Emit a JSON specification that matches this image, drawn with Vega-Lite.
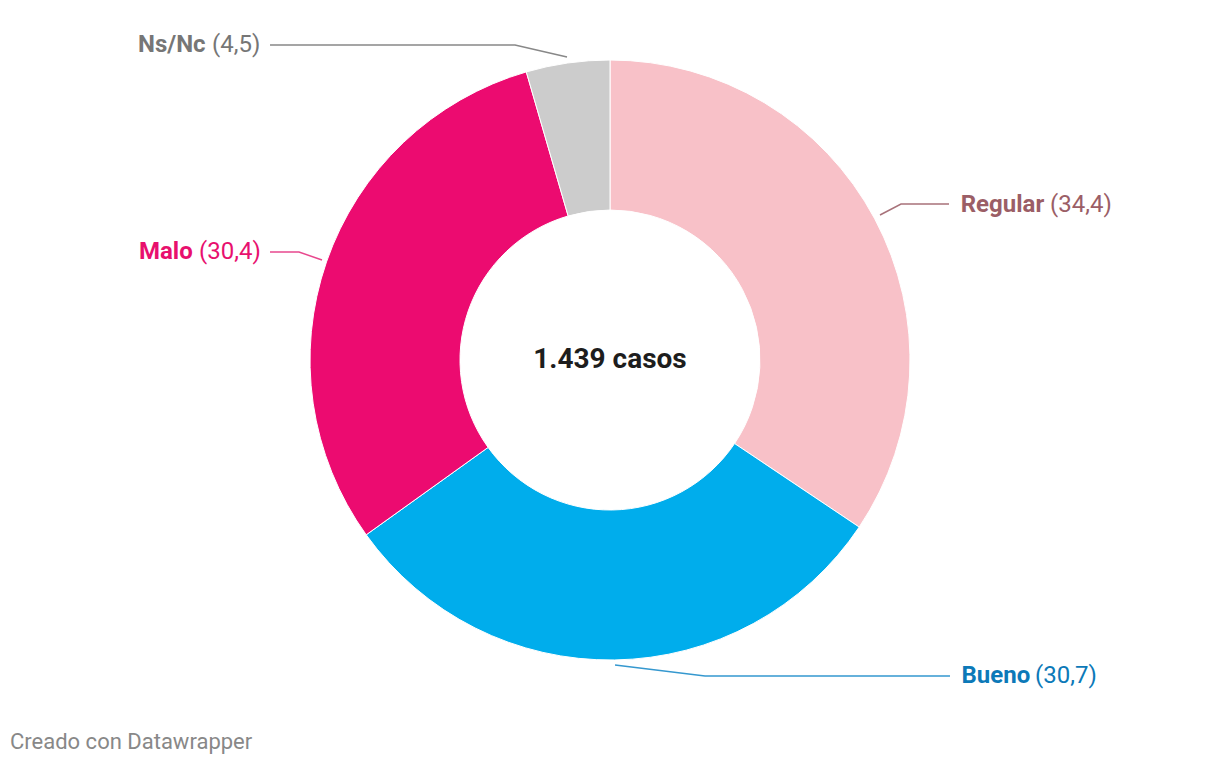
{
  "$schema": "https://vega.github.io/schema/vega-lite/v6.json",
  "width": 1220,
  "height": 766,
  "autosize": {"type": "none"},
  "padding": 0,
  "background": "white",
  "config": {"view": {"stroke": null}, "font": "Roboto"},
  "datasets": {
    "segmentos": [
      {"categoria": "Regular", "porcentaje": 34.4, "orden": 1},
      {"categoria": "Bueno", "porcentaje": 30.7, "orden": 2},
      {"categoria": "Malo", "porcentaje": 30.4, "orden": 3},
      {"categoria": "Ns/Nc", "porcentaje": 4.5, "orden": 4}
    ],
    "guias": [
      {"categoria": "Regular", "punto": 1, "x": 0.9, "y": 0.4833},
      {"categoria": "Regular", "punto": 2, "x": 0.97, "y": 0.52},
      {"categoria": "Regular", "punto": 3, "x": 1.13, "y": 0.52},
      {"categoria": "Bueno", "punto": 1, "x": 0.0167, "y": -1.0167},
      {"categoria": "Bueno", "punto": 2, "x": 0.3167, "y": -1.0533},
      {"categoria": "Bueno", "punto": 3, "x": 1.1333, "y": -1.0533},
      {"categoria": "Malo", "punto": 1, "x": -0.96, "y": 0.3333},
      {"categoria": "Malo", "punto": 2, "x": -1.0367, "y": 0.36},
      {"categoria": "Malo", "punto": 3, "x": -1.1333, "y": 0.36},
      {"categoria": "Ns/Nc", "punto": 1, "x": -0.1433, "y": 1.01},
      {"categoria": "Ns/Nc", "punto": 2, "x": -0.3167, "y": 1.05},
      {"categoria": "Ns/Nc", "punto": 3, "x": -1.1333, "y": 1.05}
    ],
    "etiquetas": [
      {"categoria": "Regular", "parte": "nombre", "texto": "Regular", "x": 1.169, "y": 0.5167},
      {"categoria": "Regular", "parte": "valor", "texto": "(34,4)", "x": 1.4667, "y": 0.5167},
      {"categoria": "Bueno", "parte": "nombre", "texto": "Bueno", "x": 1.1717, "y": -1.0533},
      {"categoria": "Bueno", "parte": "valor", "texto": "(30,7)", "x": 1.4167, "y": -1.0533},
      {"categoria": "Malo", "parte": "nombre", "texto": "Malo", "x": -1.57, "y": 0.36},
      {"categoria": "Malo", "parte": "valor", "texto": "(30,4)", "x": -1.37, "y": 0.36},
      {"categoria": "Ns/Nc", "parte": "nombre", "texto": "Ns/Nc", "x": -1.5733, "y": 1.05},
      {"categoria": "Ns/Nc", "parte": "valor", "texto": "(4,5)", "x": -1.3267, "y": 1.05}
    ],
    "centro": [{"texto": "1.439 casos", "x": 0, "y": 0}],
    "pie": [{"texto": "Creado con Datawrapper", "x": -2.0, "y": -1.2733}]
  },
  "resolve": {"scale": {"color": "independent"}},
  "layer": [
    {
      "data": {"name": "segmentos"},
      "mark": {"type": "arc", "innerRadius": 150, "outerRadius": 300, "stroke": "white", "strokeWidth": 1},
      "encoding": {
        "theta": {"field": "porcentaje", "type": "quantitative", "stack": true},
        "order": {"field": "orden", "type": "quantitative"},
        "fill": {
          "field": "categoria", "type": "nominal",
          "scale": {"domain": ["Regular", "Bueno", "Malo", "Ns/Nc"], "range": ["#f8c1c8", "#00adec", "#ec0b70", "#cccccc"]},
          "legend": null
        },
        "x": {"datum": 0, "type": "quantitative", "scale": {"domain": [-2.03333, 2.03333], "nice": false, "zero": false}, "axis": null},
        "y": {"datum": 0, "type": "quantitative", "scale": {"domain": [-1.35333, 1.2], "nice": false, "zero": false}, "axis": null}
      }
    },
    {
      "data": {"name": "guias"},
      "mark": {"type": "line", "strokeWidth": 1.5},
      "encoding": {
        "x": {"field": "x", "type": "quantitative", "axis": null},
        "y": {"field": "y", "type": "quantitative", "axis": null},
        "order": {"field": "punto", "type": "quantitative"},
        "stroke": {
          "field": "categoria", "type": "nominal",
          "scale": {"domain": ["Regular", "Bueno", "Malo", "Ns/Nc"], "range": ["#a8727a", "#3598cf", "#e8488e", "#888888"]},
          "legend": null
        }
      }
    },
    {
      "data": {"name": "etiquetas"},
      "transform": [{"filter": "datum.parte === 'nombre'"}],
      "mark": {"type": "text", "align": "left", "baseline": "middle", "fontSize": 24, "fontWeight": "bold"},
      "encoding": {
        "x": {"field": "x", "type": "quantitative", "axis": null},
        "y": {"field": "y", "type": "quantitative", "axis": null},
        "text": {"field": "texto"},
        "color": {
          "field": "categoria", "type": "nominal",
          "scale": {"domain": ["Regular", "Bueno", "Malo", "Ns/Nc"], "range": ["#9b5e66", "#0c79b8", "#e8106e", "#767676"]},
          "legend": null
        }
      }
    },
    {
      "data": {"name": "etiquetas"},
      "transform": [{"filter": "datum.parte === 'valor'"}],
      "mark": {"type": "text", "align": "left", "baseline": "middle", "fontSize": 24, "fontWeight": "normal"},
      "encoding": {
        "x": {"field": "x", "type": "quantitative", "axis": null},
        "y": {"field": "y", "type": "quantitative", "axis": null},
        "text": {"field": "texto"},
        "color": {
          "field": "categoria", "type": "nominal",
          "scale": {"domain": ["Regular", "Bueno", "Malo", "Ns/Nc"], "range": ["#9b5e66", "#0c79b8", "#e8106e", "#767676"]},
          "legend": null
        }
      }
    },
    {
      "data": {"name": "centro"},
      "mark": {"type": "text", "align": "center", "baseline": "middle", "fontSize": 28, "fontWeight": "bold", "color": "#1d1d1d"},
      "encoding": {
        "x": {"field": "x", "type": "quantitative", "axis": null},
        "y": {"field": "y", "type": "quantitative", "axis": null},
        "text": {"field": "texto"}
      }
    },
    {
      "data": {"name": "pie"},
      "mark": {"type": "text", "align": "left", "baseline": "middle", "fontSize": 22, "color": "#888888"},
      "encoding": {
        "x": {"field": "x", "type": "quantitative", "axis": null},
        "y": {"field": "y", "type": "quantitative", "axis": null},
        "text": {"field": "texto"}
      }
    }
  ]
}
